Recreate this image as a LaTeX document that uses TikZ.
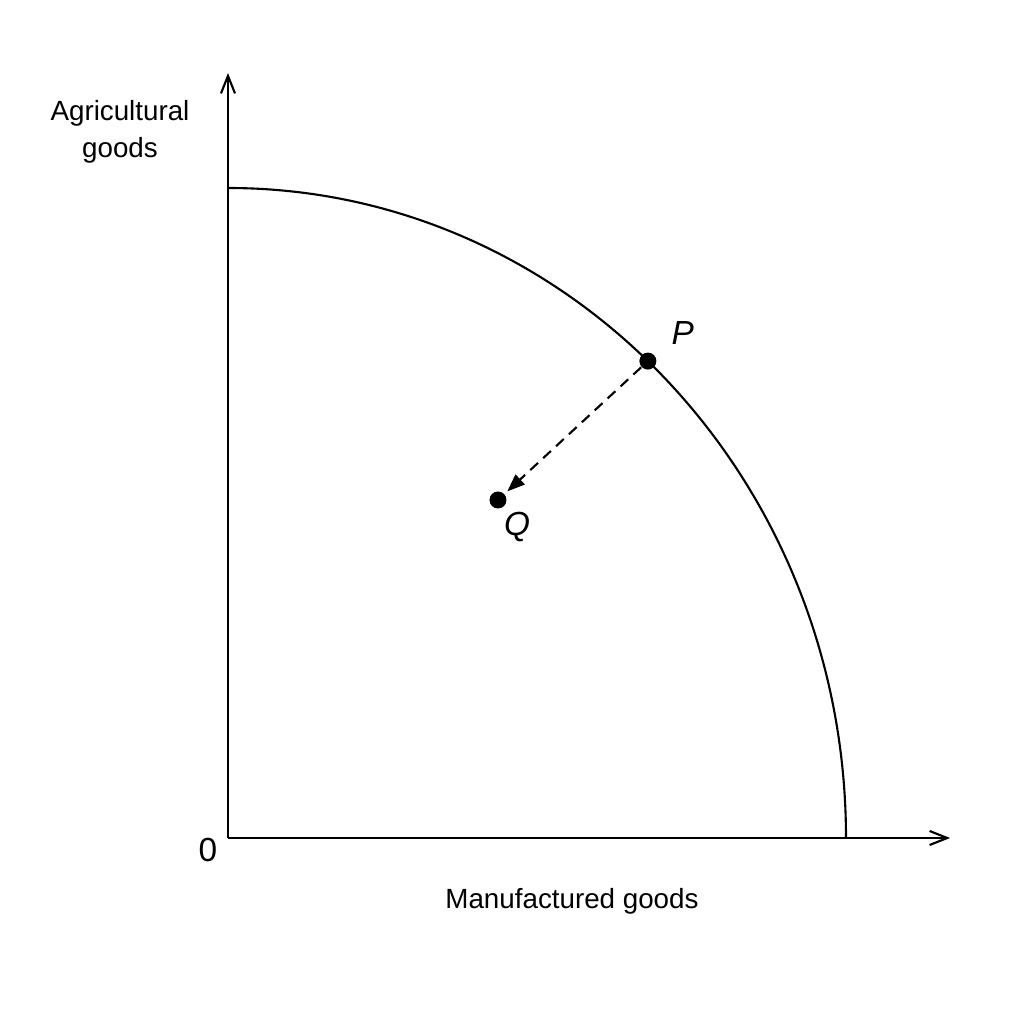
\documentclass[tikz,border=0pt]{standalone}
\usepackage{fontspec}
\setmainfont{Liberation Sans}
\usetikzlibrary{calc}
\usetikzlibrary{arrows.meta}

\begin{document}
\begin{tikzpicture}[
        axis/.style={line width=0.6pt, -{Straight Barb[length=5pt,width=4pt]}},
        dot/.style={circle, fill=black, inner sep=0pt, minimum size=0.17cm},
        lbl/.style={font=\fontsize{7.9}{10.5}\selectfont, align=center},
        ptlbl/.style={font=\fontsize{9.5}{11}\selectfont\itshape},
    ]
        \useasboundingbox (-2.28,-1.86) rectangle (7.96,8.38);
        \coordinate (O) at (0,0);
        \coordinate (ytop) at (0,7.65);
        \coordinate (xend) at (7.22,0);
        \draw[axis] (O) -- (ytop);
        \draw[axis] (O) -- (xend);
        % production possibility frontier
        \draw[line width=0.6pt] (0,6.5) arc[start angle=90, end angle=0, x radius=6.18, y radius=6.5];
        \node[dot] (P) at (47.2:6.18 and 6.5) {};
        \node[dot] (Q) at (2.70,3.38) {};
        \draw[line width=0.6pt, dash pattern=on 3pt off 2pt, -{Triangle[length=5pt,width=3.8pt]}, shorten >=1pt] (P) -- (Q);
        \node[ptlbl] (Plbl) at ($(P)+(0.35,0.28)$) {P};
        \node[ptlbl] (Qlbl) at ($(Q)+(0.19,-0.27)$) {Q};
        \node[lbl] (ylbl) at (-1.08,7.06) {Agricultural\\goods};
        \node[lbl] (xlbl) at (3.44,-0.63) {Manufactured goods};
        \node[lbl, font=\fontsize{9.5}{11}\selectfont] (zero) at (-0.20,-0.12) {0};
    \end{tikzpicture}
\end{document}
